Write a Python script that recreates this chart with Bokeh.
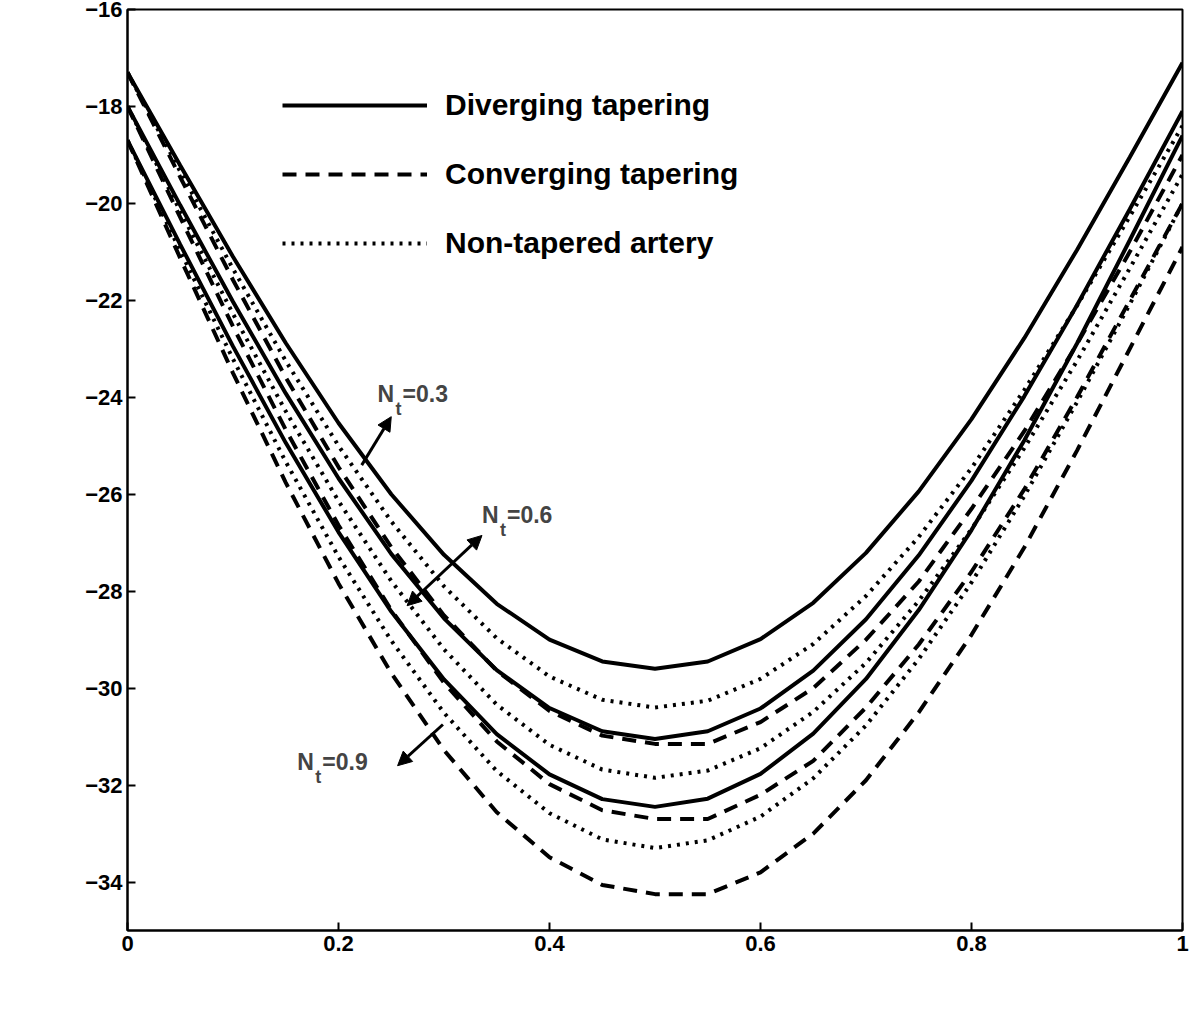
from bokeh.plotting import figure
from bokeh.models import Label, Arrow, NormalHead, Legend, LegendItem, FixedTicker
from bokeh.embed import file_html
from bokeh.resources import INLINE

z = [0, .05, .1, .15, .2, .25, .3, .35, .4, .45, .5, .55, .6, .65, .7, .75, .8, .85, .9, .95, 1]
div_03 = [-17.3,-19.22,-21.10,-22.88,-24.53,-26.0,-27.25,-28.26,-29.0,-29.45,-29.6,-29.45,-28.99,-28.24,-27.21,-25.94,-24.45,-22.78,-20.96,-19.05,-17.1]
div_06 = [-18.0,-20.04,-22.03,-23.92,-25.67,-27.23,-28.56,-29.63,-30.41,-30.89,-31.05,-30.89,-30.42,-29.64,-28.58,-27.26,-25.72,-23.98,-22.10,-20.12,-18.1]
div_09 = [-18.7,-20.85,-22.95,-24.94,-26.78,-28.42,-29.82,-30.95,-31.78,-32.29,-32.45,-32.28,-31.77,-30.94,-29.81,-28.39,-26.74,-24.89,-22.89,-20.76,-18.6]
non_03 = [-17.3,-19.34,-21.35,-23.25,-25.0,-26.56,-27.9,-28.97,-29.76,-30.24,-30.4,-30.26,-29.81,-29.09,-28.10,-26.88,-25.46,-23.85,-22.11,-20.27,-18.4]
non_06 = [-18.0,-20.16,-22.28,-24.29,-26.14,-27.79,-29.2,-30.34,-31.17,-31.68,-31.85,-31.7,-31.24,-30.49,-29.48,-28.2,-26.72,-25.05,-23.25,-21.34,-19.4]
non_09 = [-18.7,-20.98,-23.21,-25.33,-27.29,-29.02,-30.51,-31.71,-32.58,-33.12,-33.3,-33.14,-32.65,-31.86,-30.77,-29.4,-27.82,-26.04,-24.1,-22.08,-20.0]
con_03 = [-17.3,-19.46,-21.58,-23.59,-25.44,-27.09,-28.5,-29.64,-30.47,-30.98,-31.15,-31.15,-30.7,-30.0,-29.0,-27.8,-26.3,-24.7,-22.9,-21.0,-19.0]
con_06 = [-18.0,-20.29,-22.54,-24.67,-26.64,-28.39,-29.89,-31.1,-31.98,-32.52,-32.7,-32.7,-32.2,-31.5,-30.4,-29.1,-27.6,-25.9,-24.0,-22.0,-20.0]
con_09 = [-18.7,-21.13,-23.5,-25.76,-27.84,-29.69,-31.28,-32.56,-33.49,-34.06,-34.25,-34.25,-33.8,-33.0,-31.9,-30.5,-28.9,-27.1,-25.1,-23.0,-20.9]

x_ticks = [0, 0.2, 0.4, 0.6, 0.8, 1]
x_labels = ["0", "0.2", "0.4", "0.6", "0.8", "1"]
y_ticks = list(range(-34, -15, 2))

F = "Liberation Sans"
p = figure(width=1190, height=1020, x_range=(0, 1), y_range=(-35, -16),
           output_backend="svg", toolbar_location=None,
           min_border_left=127, min_border_right=8, min_border_top=9, min_border_bottom=90)
p.grid.visible = False
p.outline_line_color = "black"; p.outline_line_width = 2
for ax in (p.xaxis, p.yaxis):
    ax.major_label_text_font = F
    ax.major_label_text_font_style = "bold"
    ax.major_label_text_font_size = "22px"
    ax.major_label_text_color = "black"
    ax.major_tick_in = 8; ax.major_tick_out = 0
    ax.minor_tick_line_color = None
    ax.axis_line_width = 2; ax.major_tick_line_width = 2
p.xaxis.ticker = FixedTicker(ticks=x_ticks)
p.xaxis.major_label_overrides = {t: l for t, l in zip(x_ticks, x_labels)}
p.yaxis.ticker = FixedTicker(ticks=y_ticks)

W = 4
for ys in (div_03, div_06, div_09):
    r1 = p.line(z, ys, line_color="black", line_width=W)
for ys in (con_03, con_06, con_09):
    r2 = p.line(z, ys, line_color="black", line_width=W, line_dash="14 9")
for ys in (non_03, non_06, non_09):
    r3 = p.line(z, ys, line_color="black", line_width=W, line_dash="3 6")

leg = Legend(items=[LegendItem(label="Diverging tapering", renderers=[r1]),
                    LegendItem(label="Converging tapering", renderers=[r2]),
                    LegendItem(label="Non-tapered artery", renderers=[r3])],
             location=(155, 670), glyph_width=145, glyph_height=30, spacing=35,
             label_text_font=F, label_text_font_style="bold", label_text_font_size="30px",
             label_text_color="black",
             border_line_color=None, background_fill_alpha=0, label_standoff=18)
p.add_layout(leg, "center")

def arrow(x0, y0, x1, y1, both=False):
    p.add_layout(Arrow(x_start=x0, y_start=y0, x_end=x1, y_end=y1, line_width=3,
                       end=NormalHead(size=14, fill_color="black"),
                       start=NormalHead(size=14, fill_color="black") if both else None))

arrow(0.222, -25.4, 0.250, -24.4)
arrow(0.265, -28.3, 0.336, -26.85, both=True)
arrow(0.299, -30.75, 0.256, -31.6)

def nlabel(x, y, val):
    p.add_layout(Label(x=x, y=y, text="N", text_font=F, text_font_style="bold", text_font_size="23px"))
    p.add_layout(Label(x=x, y=y, x_offset=18, y_offset=-12, text="t", text_font=F, text_font_style="bold", text_font_size="18px"))
    p.add_layout(Label(x=x, y=y, x_offset=25, text="=" + val, text_font=F, text_font_style="bold", text_font_size="23px"))

nlabel(0.237, -24.2, "0.3")
nlabel(0.336, -26.7, "0.6")
nlabel(0.161, -31.8, "0.9")

p.add_layout(Label(x=470, y=-92, x_units="screen", y_units="screen", text="z", text_font=F,
                   text_font_style="bold", text_font_size="30px"))
p.add_layout(Label(x=-100, y=633, x_units="screen", y_units="screen", text="S", angle=1.5708,
                   text_font=F, text_font_style="bold", text_font_size="30px", text_align="center"))
p.add_layout(Label(x=-88, y=664, x_units="screen", y_units="screen", text="rz", angle=1.5708,
                   text_font=F, text_font_style="bold", text_font_size="22px", text_align="center"))

open("out.html", "w").write(file_html(p, INLINE))
